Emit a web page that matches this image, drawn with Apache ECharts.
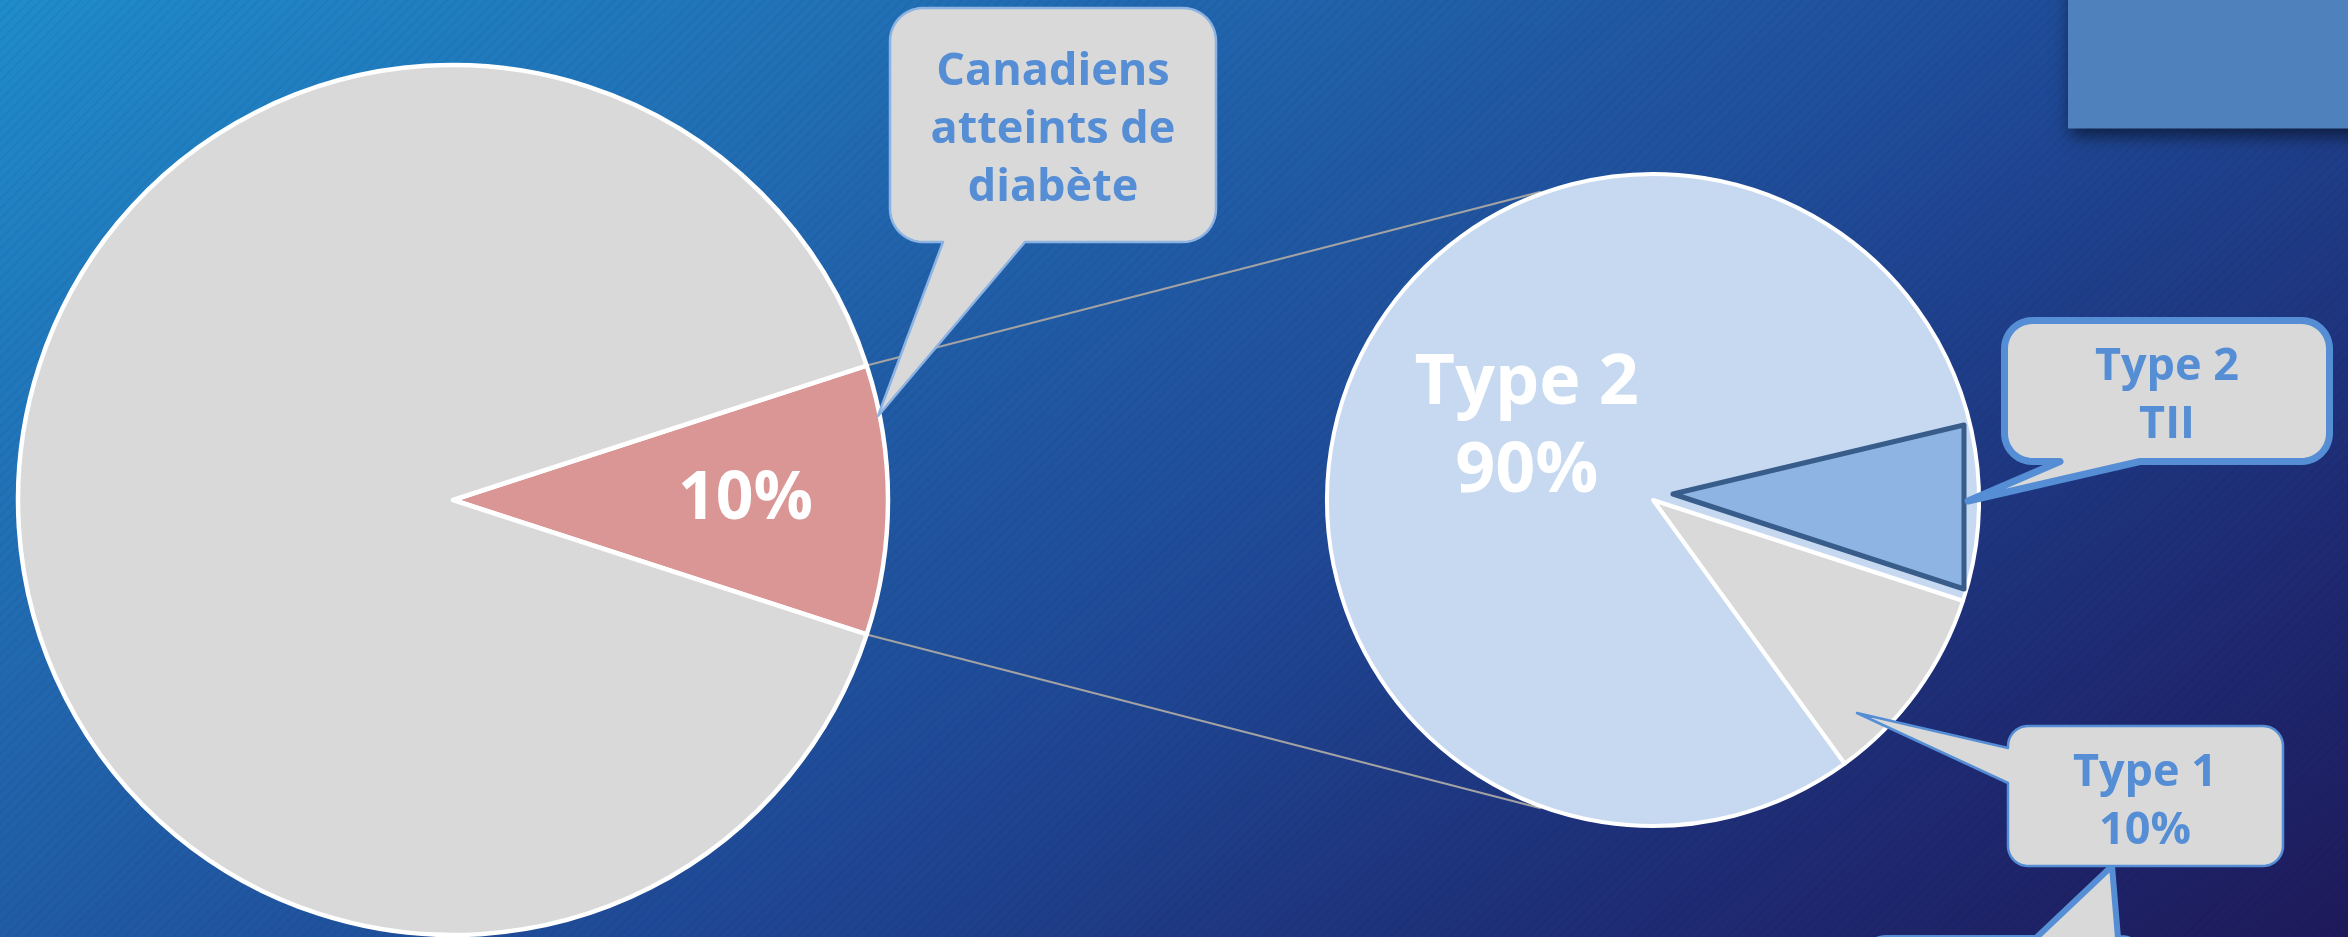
<!DOCTYPE html>
<html lang="fr">
<head>
<meta charset="utf-8">
<title>Diabète au Canada</title>
<script src="https://cdn.jsdelivr.net/npm/echarts@6/dist/echarts.min.js"></script>
<style>
  html, body { margin: 0; padding: 0; width: 2348px; height: 937px; overflow: hidden; }
  #chart {
    width: 2348px; height: 937px;
    background:
      repeating-linear-gradient(135deg, rgba(0,0,0,0.045) 0px, rgba(0,0,0,0.045) 2px, rgba(0,0,0,0) 2px, rgba(0,0,0,0) 7px),
      linear-gradient(149deg, #1F8CCB 0%, #2167AF 30%, #1F4794 58%, #1E2D76 80%, #1E1A5C 100%);
  }
</style>
</head>
<body>
<div id="chart"></div>
<script>
// Population canadienne et répartition des types de diabète
const overviewNames = ['Canadiens atteints de diabète', 'Canadiens sans diabète'];
const overviewValues = [10, 90];
const overviewCalloutLines = ['Canadiens', 'atteints de', 'diabète'];
const typeNames = ['Type 1', 'Type 2'];
const typeValues = [10, 90];
const subtypeName = 'TII';

const FONT = '"Open Sans", "Noto Sans", sans-serif';
const BIG = { cx: 453, cy: 500, r: 435 };
const SMALL = { cx: 1653, cy: 500, r: 326 };

const total = arr => arr.reduce((a, b) => a + b, 0);
const overviewSweep = overviewValues[0] / total(overviewValues) * 360;

// rounded rectangle with a pointer on one side, as polygon points
function callout(box, r, side, base0, base1, tip) {
  const { x1, y1, x2, y2 } = box;
  const pts = [];
  const arc = (cx, cy, a0, a1) => {
    for (let k = 0; k <= 12; k++) {
      const a = (a0 + (a1 - a0) * k / 12) * Math.PI / 180;
      pts.push([cx + r * Math.cos(a), cy + r * Math.sin(a)]);
    }
  };
  arc(x1 + r, y1 + r, 180, 270);
  if (side === 'top') pts.push([base0, y1], tip, [base1, y1]);
  arc(x2 - r, y1 + r, 270, 360);
  arc(x2 - r, y2 - r, 0, 90);
  if (side === 'bottom') pts.push([base1, y2], tip, [base0, y2]);
  arc(x1 + r, y2 - r, 90, 180);
  if (side === 'left') pts.push([x1, base1], tip, [x1, base0]);
  return pts;
}

function onCircle(c, rad, deg) {
  const a = deg * Math.PI / 180;
  return [c.cx + rad * Math.cos(a), c.cy - rad * Math.sin(a)];
}

const calloutText = (x, y, text) => ({
  type: 'text', x: x, y: y, z: 20,
  style: {
    text: text, fill: '#558ED5', fontSize: 45, fontWeight: 'bold', fontFamily: FONT,
    align: 'center', verticalAlign: 'middle', textAlign: 'center', textVerticalAlign: 'middle',
    lineHeight: 58
  }
});

const lineStyle = { stroke: '#A3A3A3', lineWidth: 2 };
const p1 = onCircle(BIG, BIG.r + 2, overviewSweep / 2);
const p2 = onCircle(BIG, BIG.r + 2, -overviewSweep / 2);
const q1 = onCircle(SMALL, SMALL.r + 2, 110);
const q2 = onCircle(SMALL, SMALL.r + 2, -110);

const chart = echarts.init(document.getElementById('chart'), null, { renderer: 'canvas' });

chart.setOption({
  backgroundColor: 'transparent',
  animation: false,
  series: [
    {
      type: 'pie',
      center: [BIG.cx, BIG.cy],
      radius: BIG.r,
      startAngle: overviewSweep / 2,
      clockwise: true,
      silent: true,
      avoidLabelOverlap: false,
      itemStyle: { borderColor: '#FFFFFF', borderWidth: 4.5 },
      label: {
        show: true, position: 'inside',
        formatter: p => (p.dataIndex === 0 ? p.value + '%' : ''),
        color: '#FFFFFF', fontSize: 66, fontWeight: 'bold', fontFamily: FONT
      },
      labelLine: { show: false },
      labelLayout: p => (p.dataIndex === 0 ? { dx: 72 } : {}),
      data: overviewNames.map((n, i) => ({
        name: n, value: overviewValues[i],
        itemStyle: { color: i === 0 ? '#D99694' : '#D9D9D9' }
      }))
    },
    {
      type: 'pie',
      center: [SMALL.cx, SMALL.cy],
      radius: SMALL.r,
      startAngle: -18,
      clockwise: true,
      silent: true,
      avoidLabelOverlap: false,
      itemStyle: { borderColor: '#FFFFFF', borderWidth: 4 },
      label: {
        show: true, position: 'inside',
        formatter: p => (p.dataIndex === 1 ? p.name + '\n' + p.value + '%' : ''),
        color: '#FFFFFF', fontSize: 70, fontWeight: 'bold', fontFamily: FONT, lineHeight: 88
      },
      labelLine: { show: false },
      labelLayout: p => (p.dataIndex === 1 ? { dx: 8, dy: 26 } : {}),
      data: typeNames.map((n, i) => ({
        name: n, value: typeValues[i],
        itemStyle: { color: i === 0 ? '#D9D9D9' : '#C6D9F1' }
      }))
    }
  ],
  graphic: {
    elements: [
      // connector lines between the two pies
      { type: 'line', z: 1, shape: { x1: p1[0], y1: p1[1], x2: q1[0], y2: q1[1] }, style: lineStyle },
      { type: 'line', z: 1, shape: { x1: p2[0], y1: p2[1], x2: q2[0], y2: q2[1] }, style: lineStyle },
      // highlighted subset wedge inside Type 2
      {
        type: 'polygon', z: 10,
        shape: { points: [[1673, 494], [1964, 425], [1964, 589]] },
        style: { fill: '#8EB4E3', stroke: '#385D8A', lineWidth: 5, lineJoin: 'round' }
      },
      // title block in the top right corner
      {
        type: 'rect', z: 10,
        shape: { x: 2068, y: -20, width: 300, height: 148.5 },
        style: { fill: '#4F81BD', shadowBlur: 16, shadowOffsetX: 3, shadowOffsetY: 7, shadowColor: 'rgba(0,0,0,0.55)' }
      },
      // callout: Canadiens atteints de diabète
      {
        type: 'polygon', z: 15,
        shape: { points: callout({ x1: 890, y1: 8, x2: 1216, y2: 242 }, 33, 'bottom', 943, 1025, [878, 416]) },
        style: { fill: '#D9D9D9', stroke: '#8DB3E2', lineWidth: 2.5, lineJoin: 'round' }
      },
      calloutText(1053, 130, overviewCalloutLines.join('\n')),
      // callout: Type 2 TII
      {
        type: 'polygon', z: 15,
        shape: { points: callout({ x1: 2004.5, y1: 320.5, x2: 2329.5, y2: 461.5 }, 28, 'bottom', 2060, 2140, [1968, 501]) },
        style: { fill: '#D9D9D9', stroke: '#558ED5', lineWidth: 7, lineJoin: 'round' }
      },
      calloutText(2167, 396, typeNames[1] + '\n' + subtypeName),
      // callout: Type 1
      {
        type: 'polygon', z: 15,
        shape: { points: callout({ x1: 2008, y1: 726, x2: 2283, y2: 866 }, 20, 'left', 748, 783, [1857, 713]) },
        style: { fill: '#D9D9D9', stroke: '#558ED5', lineWidth: 2.5, lineJoin: 'round' }
      },
      calloutText(2145, 802, typeNames[0] + '\n' + typeValues[0] + '%'),
      // callout continuing below the visible area
      {
        type: 'polygon', z: 14,
        shape: { points: callout({ x1: 1857, y1: 938, x2: 2150, y2: 1100 }, 30, 'top', 2036, 2118, [2112, 866]) },
        style: { fill: '#D9D9D9', stroke: '#558ED5', lineWidth: 6, lineJoin: 'round' }
      }
    ]
  }
});
</script>
</body>
</html>
